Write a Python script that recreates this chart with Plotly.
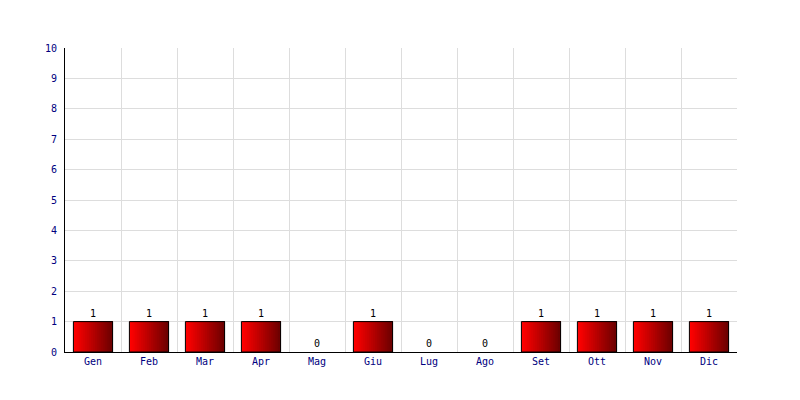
import plotly.graph_objects as go

months = ["Gen", "Feb", "Mar", "Apr", "Mag", "Giu", "Lug", "Ago", "Set", "Ott", "Nov", "Dic"]
values = [1, 1, 1, 1, 0, 1, 0, 0, 1, 1, 1, 1]
y_ticks = list(range(0, 11))

fig = go.Figure()

# gradient fill approximated by layered slices
n = 20
bar_w = 0.7
c0 = (255, 0, 0)
c1 = (110, 0, 0)
for i in range(n):
    t = i / (n - 1)
    col = "rgb(%d,%d,%d)" % tuple(round(a + (b - a) * t) for a, b in zip(c0, c1))
    fig.add_trace(go.Bar(
        x=months, y=values, width=bar_w - i * bar_w / n, offset=-bar_w / 2 + i * bar_w / n,
        marker=dict(color=col, line=dict(width=0)), hoverinfo="skip", showlegend=False,
    ))

# outline + value labels
fig.add_trace(go.Bar(
    x=months, y=values, width=bar_w, offset=-bar_w / 2,
    marker=dict(color="rgba(0,0,0,0)",
                line=dict(color="black", width=[1 if v > 0 else 0 for v in values])),
    text=[str(v) for v in values], textposition="outside", cliponaxis=False,
    textfont=dict(family="DejaVu Sans Mono", size=10, color="black"),
    showlegend=False, hoverinfo="skip",
))

fig.update_layout(
    width=800, height=400,
    margin=dict(l=57, r=71, t=40, b=56),
    paper_bgcolor="white", plot_bgcolor="white",
    barmode="overlay",
    font=dict(family="DejaVu Sans Mono", size=10, color="#000080"),
    xaxis=dict(
        type="category", tickson="boundaries", showgrid=True, gridcolor="#dddddd",
        showline=True, linecolor="black", linewidth=1, ticks="", ticklen=0,
        tickfont=dict(color="#000080", size=10), automargin=False,
    ),
    yaxis=dict(
        range=[0, 10], tickvals=y_ticks, showgrid=True, gridcolor="#dddddd",
        showline=True, linecolor="black", linewidth=1, ticks="", zeroline=False,
        tickfont=dict(color="#000080", size=10), ticklabelstandoff=5, automargin=False,
    ),
)

fig.write_html("out.html")
